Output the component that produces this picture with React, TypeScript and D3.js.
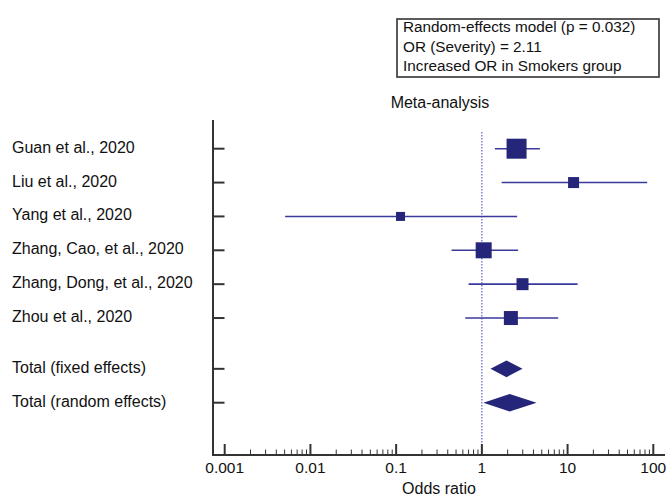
import React from "react";
import * as d3 from "d3";

const studies = [
  "Guan et al., 2020",
  "Liu et al., 2020",
  "Yang et al., 2020",
  "Zhang, Cao, et al., 2020",
  "Zhang, Dong, et al., 2020",
  "Zhou et al., 2020",
];
const oddsRatio = [2.54, 11.75, 0.1125, 1.05, 2.98, 2.18];
const lowerCI = [1.42, 1.7, 0.00507, 0.443, 0.7, 0.64];
const upperCI = [4.75, 84.9, 2.58, 2.65, 13.1, 7.77];
const weights = [20, 11, 9, 16, 12, 14]; // box side, px

const totals = ["Total (fixed effects)", "Total (random effects)"];
const totalOR = [1.94, 2.11];
const totalLower = [1.26, 1.04];
const totalUpper = [2.98, 4.35];

const xTicks = [0.001, 0.01, 0.1, 1, 10, 100];
const xTickLabels = ["0.001", "0.01", "0.1", "1", "10", "100"];

const legendLines = [
  "Random-effects model (p = 0.032)",
  "OR (Severity) = 2.11",
  "Increased OR in Smokers group",
];

const W = 667;
const H = 497;
const font = "Liberation Sans, Arial, sans-serif";
const navy = "#25267a";
const lineCol = "#3a3a9c";
const axisCol = "#333";
const fs = 16;

export default function App() {
  const left = 213;
  const right = 665;
  const top = 120;
  const bottom = 455;

  const x = d3.scaleLog().domain([0.001, 100]).range([224.7, 653.3]);
  // row positions: studies 0..5, gap, totals at 6.5, 7.5
  const rowPos = [0, 1, 2, 3, 4, 5, 6.5, 7.5];
  const y = d3.scaleLinear().domain([0, 7.5]).range([148.7, 402.7]);

  const minorTicks: number[] = [];
  for (let e = -3; e < 2; e++) {
    for (let k = 2; k <= 9; k++) minorTicks.push(k * Math.pow(10, e));
  }

  return (
    <svg
      width={W}
      height={H}
      style={{ position: "absolute", left: 0, top: 0, background: "#fff" }}
      fontFamily={font}
    >
      {/* legend box */}
      <rect x={397} y={19} width={262} height={58} fill="#fff" stroke={axisCol} strokeWidth={1.6} />
      {legendLines.map((t, i) => (
        <text key={t} x={403} y={31.8 + i * 19.7} fontSize={15.3} fill="#111">
          {t}
        </text>
      ))}

      <text x={440} y={108} fontSize={fs} textAnchor="middle" fill="#111">
        Meta-analysis
      </text>

      {/* reference line at OR = 1 */}
      <line
        x1={x(1)}
        x2={x(1)}
        y1={132}
        y2={bottom}
        stroke="#4040c0"
        strokeWidth={1}
        strokeDasharray="1.5,1.5"
      />

      {/* y axis */}
      <line x1={left} x2={left} y1={top} y2={bottom} stroke={axisCol} strokeWidth={2} />
      {rowPos.map((r, i) => (
        <line key={i} x1={left} x2={left + 11.5} y1={y(r)} y2={y(r)} stroke={axisCol} strokeWidth={2} />
      ))}

      {/* x axis */}
      <line x1={left - 1} x2={right} y1={bottom} y2={bottom} stroke={axisCol} strokeWidth={2} />
      {xTicks.map((t, i) => (
        <g key={t}>
          <line x1={x(t)} x2={x(t)} y1={bottom} y2={bottom - 11} stroke={axisCol} strokeWidth={2} />
          <text x={x(t)} y={472.5} fontSize={15.5} textAnchor="middle" fill="#111">
            {xTickLabels[i]}
          </text>
        </g>
      ))}
      {minorTicks.map((t) => (
        <line key={t} x1={x(t)} x2={x(t)} y1={bottom} y2={bottom - 5.5} stroke={axisCol} strokeWidth={1} />
      ))}
      <text x={439} y={494} fontSize={fs} textAnchor="middle" fill="#111">
        Odds ratio
      </text>

      {/* row labels */}
      {studies.map((s, i) => (
        <text key={s} x={12} y={y(rowPos[i]) + 4} fontSize={fs} fill="#111">
          {s}
        </text>
      ))}
      {totals.map((s, i) => (
        <text key={s} x={12} y={y(rowPos[6 + i]) + 4} fontSize={fs} fill="#111">
          {s}
        </text>
      ))}

      {/* study CIs and boxes */}
      {studies.map((s, i) => {
        const cy = y(rowPos[i]);
        const cx = x(oddsRatio[i]);
        const sz = weights[i];
        return (
          <g key={s}>
            <line x1={x(lowerCI[i])} x2={x(upperCI[i])} y1={cy} y2={cy} stroke={lineCol} strokeWidth={1.6} />
            <rect x={cx - sz / 2} y={cy - sz / 2} width={sz} height={sz} fill={navy} />
          </g>
        );
      })}

      {/* pooled diamonds */}
      {totals.map((s, i) => {
        const cy = y(rowPos[6 + i]);
        const h = i === 0 ? 8.3 : 8.8;
        const pts = [
          [x(totalLower[i]), cy],
          [x(totalOR[i]), cy - h],
          [x(totalUpper[i]), cy],
          [x(totalOR[i]), cy + h],
        ];
        return <polygon key={s} points={pts.map((p) => p.join(",")).join(" ")} fill={navy} />;
      })}
    </svg>
  );
}
